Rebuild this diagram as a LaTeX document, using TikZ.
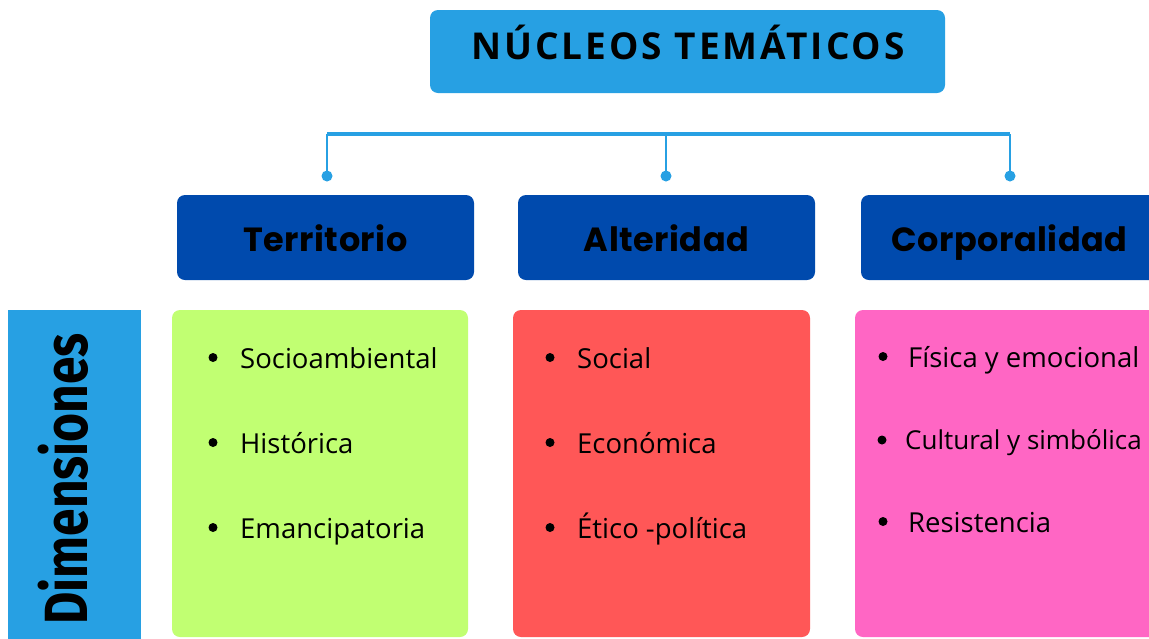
\documentclass[tikz,border=0pt]{standalone}
\usepackage{fontspec}
\setmainfont{Open Sans}
\newfontfamily\titlefont{Open Sans}[LetterSpace=8]
\newfontfamily\headfont{Poppins}[LetterSpace=1.5]
\newfontfamily\dimfont{Fira Sans}
\definecolor{lightblue}{HTML}{27A0E3}
\definecolor{darkblue}{HTML}{004AAD}
\definecolor{boxgreen}{HTML}{C1FF72}
\definecolor{boxred}{HTML}{FF5757}
\definecolor{boxpink}{HTML}{FF66C4}
\begin{document}
\begin{tikzpicture}[x=1pt,y=-1pt,
  rbox/.style={rounded corners=8pt, inner sep=0pt, draw=none},
  headbox/.style={rbox, fill=darkblue, minimum width=297pt, minimum height=85pt},
  listbox/.style={rbox, minimum height=327pt},
  headtext/.style={anchor=base, inner sep=0pt, font=\headfont\bfseries\fontsize{33.5pt}{36pt}\selectfont},
  itemtext/.style={anchor=base west, inner sep=0pt, font=\fontsize{27.5pt}{30pt}\selectfont},
  bar/.style={draw=lightblue, line width=4pt},
  drop/.style={draw=lightblue, line width=2.5pt},
  dot/.style={fill=lightblue}
]
\useasboundingbox (0,0) rectangle (1149,638);
\clip (0,0) rectangle (1149,638);
\fill[white] (0,0) rectangle (1149,638);

% title
\node[rbox, fill=lightblue, minimum width=515pt, minimum height=83pt] (title) at (687.5,51.5) {};
\node[anchor=base, inner sep=0pt, font=\titlefont\bfseries\fontsize{37pt}{40pt}\selectfont] (titletext) at (688,59) {NÚCLEOS TEMÁTICOS};

% connectors
\coordinate (barL) at (327,134);
\coordinate (barR) at (1010,134);
\coordinate (d1) at (327,176);
\coordinate (d2) at (666,176);
\coordinate (d3) at (1010,176);
\draw[bar] (barL) -- (barR);
\draw[drop] (barL) -- (d1);
\draw[drop] (d2 |- barL) -- (d2);
\draw[drop] (barR) -- (d3);
\fill[dot] (d1) circle (5.5pt);
\fill[dot] (d2) circle (5.5pt);
\fill[dot] (d3) circle (5.5pt);

% headers
\node[headbox] (terr) at (325.5,237.5) {};
\node[headbox] (alter) at (666.5,237.5) {};
\node[headbox] (corp) at (1009.5,237.5) {};
\node[headtext] (terrtext) at (325.5,251) {Territorio};
\node[headtext] (altertext) at (666.5,251) {Alteridad};
\node[headtext] (corptext) at (1009.5,251) {Corporalidad};

% dimensiones
\node[fill=lightblue, inner sep=0pt, minimum width=133pt, minimum height=340pt] (dim) at (74.5,480) {};
\node[anchor=base west, rotate=90, inner sep=0pt, font=\dimfont\bfseries\fontsize{61pt}{64pt}\selectfont] (dimtext) at (87,625) {\scalebox{0.815}[1]{Dimensiones}};

% list boxes
\node[listbox, fill=boxgreen, minimum width=296pt] (green) at (320,473.5) {};
\node[listbox, fill=boxred, minimum width=297pt] (red) at (661.5,473.5) {};
\node[listbox, fill=boxpink, minimum width=305pt] (pink) at (1007.5,473.5) {};

% items green
\fill (213,357.5) circle (4.5pt);
\fill (213,442.5) circle (4.5pt);
\fill (213,527.5) circle (4.5pt);
\node[itemtext] (g1) at (240,368) {Socioambiental};
\node[itemtext] (g2) at (240,453) {Histórica};
\node[itemtext] (g3) at (240,538) {Emancipatoria};

% items red
\fill (550,357.5) circle (4.5pt);
\fill (550,442.5) circle (4.5pt);
\fill (550,527.5) circle (4.5pt);
\node[itemtext] (r1) at (577,368) {Social};
\node[itemtext] (r2) at (577,453) {Económica};
\node[itemtext] (r3) at (577,538) {Ético -política};

% items pink
\fill (883,356.5) circle (4.5pt);
\fill (882,440) circle (4.5pt);
\fill (883,521.5) circle (4.5pt);
\node[itemtext] (p1) at (908,367) {Física y emocional};
\node[itemtext, font=\fontsize{26pt}{29pt}\selectfont] (p2) at (905,449) {Cultural y simbólica};
\node[itemtext] (p3) at (908,532) {Resistencia};
\end{tikzpicture}
\end{document}
